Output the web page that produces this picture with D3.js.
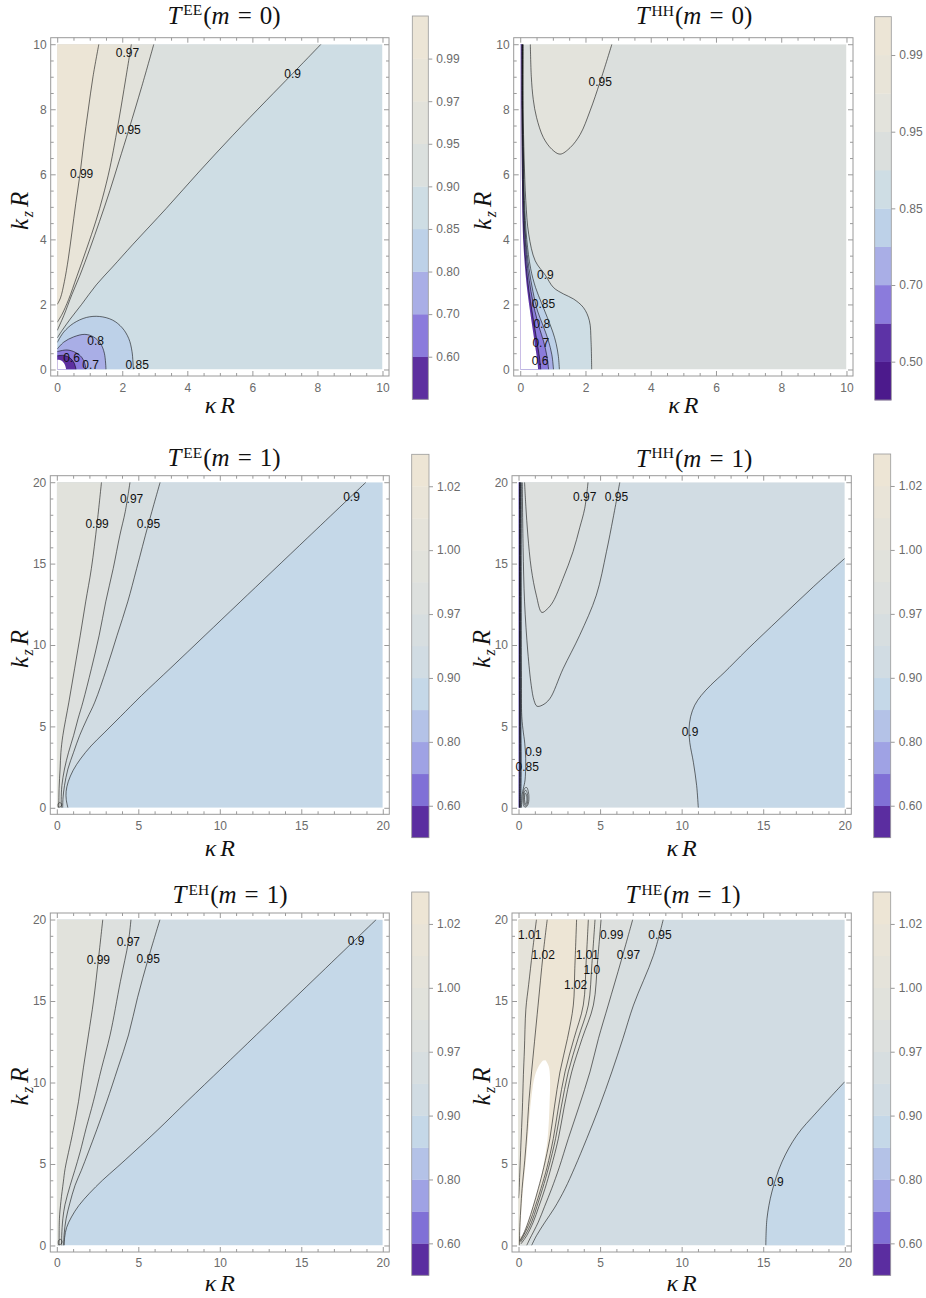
<!DOCTYPE html>
<html><head><meta charset="utf-8">
<script src="https://cdn.jsdelivr.net/npm/d3@7"></script>
<style>body{margin:0;background:#fff}</style>
</head><body>
<svg id="c" width="926" height="1298" xmlns="http://www.w3.org/2000/svg"></svg>
<script>
// ================= DATA =================
const TICKS10 = [0, 2, 4, 6, 8, 10];
const TICKS20 = [0, 5, 10, 15, 20];

// colour bands (contour levels and band colours, bottom -> top)
const LV_EE0 = [0.60, 0.70, 0.80, 0.85, 0.90, 0.95, 0.97, 0.99];
const COL_EE0 = ["#5d2f9f","#8b7bdc","#a9aee6","#bdd1e8","#cedde4","#dbe0de","#e2e2db","#e8e4d8","#ece5d6"];
const CBT_EE0 = [0.60, 0.70, 0.80, 0.85, 0.90, 0.95, 0.97, 0.99];

const LV_HH0 = [0.50, 0.60, 0.70, 0.80, 0.85, 0.90, 0.95, 0.97, 0.99];
const COL_HH0 = ["#4c1a8c","#5d33a6","#8b7bdc","#a9aee6","#bdd1e8","#cedde4","#dbdfdd","#e3e3dc","#e8e4d8","#ece5d6"];
const CBT_HH0 = [0.50, 0.70, 0.85, 0.95, 0.99];

const LV_M1 = [0.60, 0.70, 0.80, 0.85, 0.90, 0.95, 0.97, 0.99, 1.00, 1.01, 1.02];
const COL_M1 = ["#5b2da0","#8070d6","#9fa2e4","#b4c2e7","#c5d8e8","#d1dce3","#d7dee0","#dde0de","#e1e2dc","#e5e3da","#e9e4d8","#ede5d5"];
const CBT_M1 = [0.60, 0.80, 0.90, 0.97, 1.00, 1.02];

// ---- T^EE (m=0) contour lines [kappaR, kzR] ----
const ee0_099 = [[1.28,10],[1.1,9],[0.95,7.95],[0.82,7],[0.7,6.0],[0.57,5.1],[0.45,4.2],[0.34,3.4],[0.22,2.7],[0.1,2.2],[0,2.0]];
const ee0_097 = [[2.28,10],[2.1,8.9],[1.9,7.7],[1.62,6.2],[1.4,5.3],[1.2,4.6],[0.9,3.7],[0.6,2.85],[0.35,2.15],[0.15,1.7],[0,1.45]];
const ee0_095 = [[2.97,10],[2.6,8.7],[2.21,7.4],[1.9,6.4],[1.62,5.5],[1.3,4.55],[1.0,3.7],[0.7,2.9],[0.45,2.3],[0.2,1.65],[0,1.2]];
const ee0_090 = [[8.11,10],[7.24,9.1],[6.42,8.26],[5.4,7.2],[4.38,6.1],[3.35,4.95],[2.33,3.85],[1.7,3.15],[1.2,2.6],[0.75,2.0],[0.4,1.55],[0.15,1.2],[0,0.97]];
const ee0_085 = [[0,0.83],[0.2,1.15],[0.5,1.42],[0.9,1.6],[1.3,1.63],[1.7,1.52],[2.0,1.28],[2.2,0.95],[2.3,0.55],[2.34,0]];
const ee0_080 = [[0,0.63],[0.2,0.84],[0.5,1.0],[0.85,1.08],[1.12,1.0],[1.33,0.8],[1.45,0.5],[1.5,0]];
const ee0_070 = [[0,0.55],[0.3,0.6],[0.55,0.53],[0.75,0.38],[0.85,0.18],[0.88,0]];
const ee0_060 = [[0,0.42],[0.22,0.43],[0.4,0.35],[0.52,0.2],[0.58,0]];
const ee0_nan = [[0,0.3],[0.12,0.28],[0.22,0.18],[0.28,0]];
const LAB_EE0 = [["0.97",2.16,9.74],["0.9",7.24,9.1],["0.95",2.21,7.37],["0.99",0.75,6.03],["0.8",1.18,0.88],["0.6",0.44,0.35],["0.7",1.03,0.16],["0.85",2.46,0.16]];

// ---- T^HH (m=0) ----
const hh0_095 = [[0.31,10],[0.34,9.0],[0.4,8.3],[0.5,7.75],[0.71,7.13],[0.97,6.77],[1.22,6.62],[1.53,6.82],[1.84,7.23],[2.14,7.95],[2.45,8.85],[2.81,10]];
const hh0_090 = [[0.09,10],[0.09,8],[0.12,6.5],[0.17,5.2],[0.26,4.16],[0.46,3.34],[0.77,2.9],[1.02,2.52],[1.33,2.32],[1.63,2.17],[1.94,1.9],[2.12,1.5],[2.17,0.88],[2.19,0]];
const hh0_085 = [[0.08,10],[0.08,8],[0.1,6.5],[0.13,5.2],[0.2,4.0],[0.32,3.1],[0.47,2.52],[0.65,2.05],[0.83,1.6],[1.0,1.15],[1.1,0.8],[1.17,0.4],[1.2,0]];
const hh0_080 = [[0.07,10],[0.07,8],[0.09,6.5],[0.11,5.2],[0.17,4.0],[0.27,3.1],[0.39,2.4],[0.53,1.8],[0.7,1.35],[0.86,0.9],[0.97,0.45],[1.02,0]];
const hh0_070 = [[0.06,10],[0.06,8],[0.08,6.5],[0.1,5.2],[0.15,4.0],[0.23,3.1],[0.33,2.4],[0.45,1.8],[0.58,1.3],[0.72,0.85],[0.82,0.4],[0.87,0]];
const hh0_060 = [[0.05,10],[0.05,8],[0.06,6.5],[0.08,5.2],[0.12,4.0],[0.19,3.1],[0.27,2.4],[0.36,1.8],[0.45,1.25],[0.54,0.7],[0.6,0.3],[0.63,0]];
const hh0_nan = [[0.03,10],[0.04,8],[0.05,6.5],[0.06,5.2],[0.09,4.0],[0.15,3.1],[0.22,2.4],[0.3,1.8],[0.38,1.25],[0.46,0.7],[0.52,0.3],[0.55,0]];
const LAB_HH0 = [["0.95",2.45,8.85],["0.9",0.77,2.9],["0.85",0.71,2.03],["0.8",0.66,1.42],["0.7",0.63,0.83],["0.6",0.61,0.27]];

// ---- T^EE (m=1) ----
const ee1_099 = [[2.74,20],[2.47,17.47],[2.12,14.7],[1.77,12.65],[1.44,10.6],[1.09,8.54],[0.74,6.49],[0.37,4.44],[0.25,3.4],[0.2,2.38],[0.14,1.2],[0.12,0]];
const ee1_097 = [[4.49,20],[4.2,18.2],[3.87,16.75],[3.46,14.7],[3.0,12.65],[2.6,10.6],[2.12,8.54],[1.6,6.49],[1.3,5.46],[1.03,4.44],[0.72,3.41],[0.47,2.38],[0.31,1.36],[0.27,0.5],[0.28,0]];
const ee1_095 = [[6.34,20],[5.62,17.43],[4.9,14.7],[4.35,12.65],[3.7,10.6],[3.05,8.54],[2.33,6.49],[1.85,5.46],[1.4,4.44],[1.03,3.41],[0.68,2.38],[0.47,1.36],[0.38,0.6],[0.36,0]];
const ee1_090 = [[18.97,20],[15.4,16.6],[11.25,12.65],[9.1,10.6],[7.0,8.6],[5.2,6.9],[3.9,5.6],[2.9,4.6],[2.1,3.8],[1.45,3.0],[1.0,2.3],[0.7,1.6],[0.57,1.0],[0.58,0.5],[0.68,0]];
const ee1_loop = [[0.1,0.04],[0.25,0.08],[0.3,0.2],[0.2,0.32],[0.08,0.24]];
const LAB_EE1 = [["0.97",4.59,18.97],["0.99",2.47,17.47],["0.95",5.62,17.43],["0.9",18.08,19.12]];

// ---- T^HH (m=1) ----
const hh1_097 = [[0.37,20],[0.45,18.5],[0.57,16.76],[0.78,14.7],[1.09,13.06],[1.43,12.0],[1.75,12.2],[2.11,12.65],[2.73,14.09],[3.34,15.73],[3.75,17.2],[4.06,18.4],[4.26,20]];
const hh1_095 = [[0.23,20],[0.28,16],[0.37,12.65],[0.57,9.57],[0.78,7.52],[0.95,6.6],[1.13,6.24],[1.45,6.3],[1.91,6.69],[2.73,8.54],[3.75,10.6],[4.77,13.06],[5.39,15.73],[5.8,17.8],[6.21,20]];
const hh1_090r = [[11.02,0],[10.92,1.36],[10.72,2.79],[10.5,4.0],[10.45,4.8],[10.55,5.6],[10.8,6.3],[11.2,6.9],[11.8,7.55],[12.6,8.3],[14.0,9.7],[16.04,11.65],[18.1,13.6],[20,15.32]];
const hh1_090l = [[0.17,20],[0.17,12],[0.18,8],[0.2,5.6],[0.3,4.6],[0.36,4.17],[0.43,3.3],[0.44,2.73],[0.4,1.7],[0.3,1.2],[0.22,0.8],[0.18,0]];
const hh1_085 = [[0.13,20],[0.13,12],[0.14,8],[0.15,5],[0.17,3],[0.16,1.5],[0.13,0]];
const hh1_080 = [[0.1,20],[0.1,12],[0.1,8],[0.11,5],[0.12,3],[0.11,1.5],[0.1,0]];
const hh1_070 = [[0.08,20],[0.08,12],[0.08,8],[0.09,5],[0.09,3],[0.08,1.5],[0.07,0]];
const hh1_060 = [[0.06,20],[0.06,12],[0.06,8],[0.06,5],[0.06,3],[0.05,1.5],[0.05,0]];
const hh1_nan = [[0.04,20],[0.04,8],[0.045,3],[0.04,0]];
const hh1_loopA = [[0.42,0.02],[0.58,0.2],[0.64,0.6],[0.6,1.0],[0.5,1.25],[0.38,1.2],[0.3,0.9],[0.27,0.45],[0.32,0.12]];
const hh1_loopB = [[0.43,0.1],[0.54,0.25],[0.57,0.6],[0.53,0.92],[0.45,1.08],[0.37,1.0],[0.33,0.7],[0.33,0.35]];
const hh1_loopC = [[0.44,0.2],[0.5,0.35],[0.51,0.6],[0.48,0.82],[0.42,0.9],[0.38,0.75],[0.37,0.5]];
const LAB_HH1 = [["0.97",4.06,19.12],["0.95",6.0,19.12],["0.9",10.51,4.68],["0.9",0.92,3.45],["0.85",0.53,2.53]];

// ---- T^EH (m=1) ----
const eh1_099 = [[2.82,20],[2.55,17.54],[2.25,15],[1.94,12.92],[1.63,10.9],[1.33,8.82],[0.95,6.8],[0.51,4.72],[0.4,3.9],[0.25,2.7],[0.16,1.64],[0.14,0]];
const eh1_097 = [[4.55,20],[4.39,18.63],[3.9,16.2],[3.27,12.92],[2.75,10.9],[2.24,8.82],[1.8,7.2],[1.43,5.74],[1.1,4.6],[0.82,3.69],[0.5,2.5],[0.37,1.64],[0.3,0.6],[0.3,0]];
const eh1_095 = [[6.33,20],[5.61,17.6],[4.95,15.2],[4.4,12.92],[3.75,10.9],[3.06,8.82],[2.45,7.1],[1.94,5.74],[1.5,4.6],[1.12,3.69],[0.8,2.6],[0.57,1.64],[0.45,0.7],[0.42,0]];
const eh1_090 = [[19.6,20],[18.25,18.7],[15.34,15.9],[12.24,12.92],[10.14,10.9],[8.0,8.85],[6.2,7.1],[4.8,5.8],[3.7,4.8],[2.8,4.0],[2.0,3.2],[1.35,2.45],[0.9,1.75],[0.6,1.1],[0.48,0.5],[0.45,0]];
const eh1_loop = [[0.12,0.04],[0.27,0.1],[0.32,0.25],[0.22,0.38],[0.1,0.28]];
const LAB_EH1 = [["0.99",2.55,17.54],["0.97",4.39,18.63],["0.95",5.61,17.6],["0.9",18.37,18.7]];

// ---- T^HE (m=1) ----
const he1_090 = [[15.16,0],[15.23,1.64],[15.53,3.28],[16.15,5.13],[17.07,6.77],[18.3,8.2],[20,10.05]];
const he1_095 = [[8.87,20],[8.27,17.8],[7.05,14.75],[6.4,12.7],[5.72,10.65],[4.95,8.5],[4.18,6.55],[3.45,4.8],[2.85,3.48],[2.2,2.3],[1.62,1.43],[1.1,0.6],[0.8,0]];
const he1_097 = [[7.0,20],[6.3,17.5],[5.5,14.75],[4.9,12.7],[4.38,10.65],[3.7,8.5],[3.05,6.55],[2.5,4.8],[2.03,3.48],[1.6,2.4],[1.21,1.43],[0.69,0.4],[0.5,0]];
const he1_099 = [[5.06,20],[4.85,17.5],[4.59,14.75],[3.9,12.7],[3.26,10.65],[2.8,8.5],[2.44,6.55],[2.0,4.8],[1.62,3.48],[1.25,2.4],[0.9,1.43],[0.5,0.6],[0.15,0.1]];
const he1_100 = [[4.69,20],[4.5,17.3],[4.28,14.75],[3.65,12.7],[3.05,10.65],[2.62,8.5],[2.27,6.55],[1.85,4.8],[1.47,3.48],[1.13,2.4],[0.8,1.43],[0.42,0.65],[0.12,0.2]];
const he1_101r = [[4.28,20],[4.15,17.5],[3.97,14.75],[3.4,12.7],[2.85,10.65],[2.45,8.5],[2.13,6.55],[1.75,4.8],[1.37,3.48],[1.03,2.4],[0.69,1.43],[0.35,0.7],[0.1,0.25]];
const he1_102r = [[3.56,20],[3.45,17],[3.36,14.75],[3.0,12.7],[2.54,10.65],[2.2,8.5],[1.92,6.55],[1.55,4.8],[1.21,3.48],[0.9,2.4],[0.59,1.43],[0.3,0.7],[0.08,0.3]];
const he1_102l = [[1.76,20],[1.5,17.8],[1.2,14.75],[0.98,12.5],[0.8,10.65],[0.65,9.0],[0.52,7.0],[0.38,5.2],[0.22,3.5],[0.14,2.3],[0.09,1.4],[0.06,0.4],[0.05,0]];
const he1_101l = [[1.1,20],[0.85,18],[0.62,16],[0.45,14.5],[0.36,12],[0.3,10.5],[0.23,8.2],[0.15,6.3],[0.08,4.5],[0.03,3.3],[0,2.9]];
const he1_nan = [[1.66,11.37],[1.85,11.0],[1.93,10.3],[1.9,8.6],[1.78,6.55],[1.45,4.5],[1.05,3.0],[0.75,2.0],[0.45,1.1],[0.22,0.6],[0.12,0.55],[0.13,1.4],[0.19,2.3],[0.28,3.5],[0.45,5.2],[0.6,7.0],[0.78,9.0],[1.0,10.4],[1.3,11.1],[1.5,11.35]];
const LAB_HE1 = [["1.01",0.69,19.1],["1.02",1.51,17.87],["1.01",4.22,17.87],["1.0",4.49,16.9],["1.02",3.5,16.02],["0.99",5.71,19.1],["0.97",6.74,17.87],["0.95",8.67,19.08],["0.9",15.74,3.9]];

// ================= PANEL DEFINITIONS =================
const panels = [
  {sup:"EE", m:"0", max:10, ticks:TICKS10, minor:0.5, levels:LV_EE0, colors:COL_EE0, cbTicks:CBT_EE0, base:0.875,
   contours:[{v:0.90,s:1,c:["TL"],p:ee0_090},{v:0.95,s:1,c:["TL"],p:ee0_095},{v:0.97,s:1,c:["TL"],p:ee0_097},{v:0.99,s:1,c:["TL"],p:ee0_099},
             {v:0.85,s:-1,c:["BL"],p:ee0_085},{v:0.80,s:-1,c:["BL"],p:ee0_080},{v:0.70,s:-1,c:["BL"],p:ee0_070},{v:0.60,s:-1,c:["BL"],p:ee0_060}],
   nan:[{p:ee0_nan,c:["BL"]}], loops:[], labels:LAB_EE0},
  {sup:"HH", m:"0", max:10, ticks:TICKS10, minor:0.5, levels:LV_HH0, colors:COL_HH0, cbTicks:CBT_HH0, base:0.925,
   contours:[{v:0.95,s:1,c:[],p:hh0_095},{v:0.90,s:-1,c:["BL","TL"],p:hh0_090},{v:0.85,s:-1,c:["BL","TL"],p:hh0_085},
             {v:0.80,s:-1,c:["BL","TL"],p:hh0_080},{v:0.70,s:-1,c:["BL","TL"],p:hh0_070},{v:0.60,s:-1,c:["BL","TL"],p:hh0_060}],
   nan:[{p:hh0_nan,c:["BL","TL"]}], loops:[], labels:LAB_HH0},
  {sup:"EE", m:"1", max:20, ticks:TICKS20, minor:1, levels:LV_M1, colors:COL_M1, cbTicks:CBT_M1, base:0.875,
   contours:[{v:0.90,s:1,c:["BL","TL"],p:ee1_090},{v:0.95,s:1,c:["BL","TL"],p:ee1_095},{v:0.97,s:1,c:["BL","TL"],p:ee1_097},{v:0.99,s:1,c:["BL","TL"],p:ee1_099}],
   nan:[], loops:[ee1_loop], labels:LAB_EE1},
  {sup:"HH", m:"1", max:20, ticks:TICKS20, minor:1, levels:LV_M1, colors:COL_M1, cbTicks:CBT_M1, base:0.925,
   contours:[{v:0.90,s:-1,c:["BR"],p:hh1_090r},{v:0.95,s:1,c:[],p:hh1_095},{v:0.97,s:1,c:[],p:hh1_097},
             {v:0.90,s:-1,c:["BL","TL"],p:hh1_090l},{v:0.85,s:-1,c:["BL","TL"],p:hh1_085},{v:0.80,s:-1,c:["BL","TL"],p:hh1_080},
             {v:0.70,s:-1,c:["BL","TL"],p:hh1_070},{v:0.60,s:-1,c:["BL","TL"],p:hh1_060}],
   nan:[{p:hh1_nan,c:["BL","TL"]}], loops:[hh1_loopA,hh1_loopB,hh1_loopC], labels:LAB_HH1},
  {sup:"EH", m:"1", max:20, ticks:TICKS20, minor:1, levels:LV_M1, colors:COL_M1, cbTicks:CBT_M1, base:0.875,
   contours:[{v:0.90,s:1,c:["BL","TL"],p:eh1_090},{v:0.95,s:1,c:["BL","TL"],p:eh1_095},{v:0.97,s:1,c:["BL","TL"],p:eh1_097},{v:0.99,s:1,c:["BL","TL"],p:eh1_099}],
   nan:[], loops:[eh1_loop], labels:LAB_EH1},
  {sup:"HE", m:"1", max:20, ticks:TICKS20, minor:1, levels:LV_M1, colors:COL_M1, cbTicks:CBT_M1, base:0.925,
   contours:[{v:0.90,s:-1,c:["BR"],p:he1_090},{v:0.95,s:1,c:["BL","TL"],p:he1_095},{v:0.97,s:1,c:["BL","TL"],p:he1_097},
             {v:0.99,s:1,c:["BL","TL"],p:he1_099},{v:1.00,s:1,c:["BL","TL"],p:he1_100},{v:1.01,s:1,c:["BL","TL"],p:he1_101r},
             {v:1.02,s:1,c:["BL","TL"],p:he1_102r},{v:1.02,s:-1,c:["BL","TL"],p:he1_102l},{v:1.01,s:-1,c:["TL"],p:he1_101l}],
   nan:[{p:he1_nan,c:[]}], loops:[], labels:LAB_HE1}
];

// ================= LAYOUT =================
const layout = [
  {fx0:50.7, fx1:389.0, fy0:37.7, fy1:376.0, cb:[412.3,16.0,428.3,399.3], tx:224, ty:23.5, xly:412.7, ylx:28, tp:7},
  {fx0:513.7,fx1:853.0, fy0:37.7, fy1:376.0, cb:[874.7,16.7,891.3,400.0], tx:694, ty:24.0, xly:412.7, ylx:491, tp:7},
  {fx0:50.3, fx1:389.3, fy0:475.7,fy1:814.3, cb:[411.7,454.3,429.0,837.7], tx:224, ty:466.0, xly:855.7, ylx:28, tp:7},
  {fx0:512.0,fx1:851.3, fy0:475.7,fy1:814.3, cb:[873.7,454.0,890.7,837.7], tx:694, ty:466.5, xly:855.7, ylx:490, tp:7},
  {fx0:50.3, fx1:389.3, fy0:913.0,fy1:1252.0,cb:[411.7,892.0,429.0,1275.3],tx:230, ty:903.0, xly:1291.0, ylx:28, tp:6},
  {fx0:512.0,fx1:851.3, fy0:913.0,fy1:1252.0,cb:[873.0,892.0,890.7,1275.3],tx:683, ty:903.0, xly:1291.0, ylx:490, tp:6}
];

const SANS = "Liberation Sans, Arial, Helvetica, sans-serif";
const SERIF = "Liberation Serif, Times New Roman, serif";
const GRAY = "#9a9a9a";
const svg = d3.select("#c");
svg.append("rect").attr("width",926).attr("height",1298).attr("fill","#fff");
const defs = svg.append("defs");

panels.forEach((P, i) => {
  const L = layout[i];
  const padX = (L.fx1 - L.fx0) * 0.02 / 1.04, padY = (L.fy1 - L.fy0) * 0.02 / 1.04;
  const x = d3.scaleLinear().domain([0, P.max]).range([L.fx0 + padX, L.fx1 - padX]);
  const y = d3.scaleLinear().domain([0, P.max]).range([L.fy1 - padY, L.fy0 + padY]);
  const g = svg.append("g");
  const cid = "clip" + i;
  defs.append("clipPath").attr("id", cid).append("rect")
    .attr("x", x(0)).attr("y", y(P.max)).attr("width", x(P.max) - x(0)).attr("height", y(0) - y(P.max));
  const plot = g.append("g").attr("clip-path", `url(#${cid})`);
  const bandColor = v => P.colors[d3.bisectRight(P.levels, v)];
  const corner = {TL:[0,P.max], BL:[0,0], BR:[P.max,0], TR:[P.max,P.max]};
  const line = d3.line().x(d => x(d[0])).y(d => y(d[1])).curve(d3.curveCatmullRom.alpha(0.5));
  const loopLine = d3.line().x(d => x(d[0])).y(d => y(d[1])).curve(d3.curveCatmullRomClosed.alpha(0.5));
  const region = (pts, corners) => line(pts) + corners.map(k => `L${x(corner[k][0])},${y(corner[k][1])}`).join("") + "Z";

  plot.append("rect").attr("x", x(0)).attr("y", y(P.max)).attr("width", x(P.max) - x(0)).attr("height", y(0) - y(P.max))
    .attr("fill", bandColor(P.base));
  P.contours.forEach(c => {
    plot.append("path").attr("d", region(c.p, c.c)).attr("fill", bandColor(c.v + c.s * 1e-6)).attr("stroke", "none");
  });
  P.nan.forEach(n => plot.append("path").attr("d", region(n.p, n.c)).attr("fill", "#fff"));
  P.contours.forEach(c => {
    plot.append("path").attr("d", line(c.p)).attr("fill", "none")
      .attr("stroke", "#000").attr("stroke-opacity", 0.55).attr("stroke-width", 1);
  });
  P.loops.forEach(lp => {
    plot.append("path").attr("d", loopLine(lp)).attr("fill", "none")
      .attr("stroke", "#000").attr("stroke-opacity", 0.55).attr("stroke-width", 0.9);
  });
  P.labels.forEach(lb => {
    g.append("text").attr("x", x(lb[1])).attr("y", y(lb[2])).attr("dy", "0.36em")
      .attr("text-anchor", "middle").attr("font-family", SANS).attr("font-size", 12).attr("fill", "#111").text(lb[0]);
  });

  g.append("rect").attr("x", L.fx0).attr("y", L.fy0).attr("width", L.fx1 - L.fx0).attr("height", L.fy1 - L.fy0)
    .attr("fill", "none").attr("stroke", GRAY).attr("stroke-width", 1);
  const minor = d3.range(0, P.max + 1e-9, P.minor).filter(v => !P.ticks.includes(v));
  const styleAxis = sel => {
    sel.select(".domain").remove();
    sel.selectAll("line").attr("stroke", GRAY);
    sel.selectAll("text").attr("font-family", SANS).attr("font-size", 12).attr("fill", "#6b6b6b");
  };
  const fmt = d3.format("d");
  g.append("g").attr("transform", `translate(0,${L.fy1})`)
    .call(d3.axisBottom(x).tickValues(P.ticks).tickSizeInner(-5).tickSizeOuter(0).tickPadding(L.tp).tickFormat(fmt)).call(styleAxis);
  g.append("g").attr("transform", `translate(0,${L.fy1})`)
    .call(d3.axisBottom(x).tickValues(minor).tickSizeInner(-3).tickSizeOuter(0).tickFormat("")).call(styleAxis);
  g.append("g").attr("transform", `translate(0,${L.fy0})`)
    .call(d3.axisTop(x).tickValues(P.ticks).tickSizeInner(-5).tickSizeOuter(0).tickFormat("")).call(styleAxis);
  g.append("g").attr("transform", `translate(0,${L.fy0})`)
    .call(d3.axisTop(x).tickValues(minor).tickSizeInner(-3).tickSizeOuter(0).tickFormat("")).call(styleAxis);
  g.append("g").attr("transform", `translate(${L.fx0},0)`)
    .call(d3.axisLeft(y).tickValues(P.ticks).tickSizeInner(-5).tickSizeOuter(0).tickPadding(4).tickFormat(fmt)).call(styleAxis);
  g.append("g").attr("transform", `translate(${L.fx0},0)`)
    .call(d3.axisLeft(y).tickValues(minor).tickSizeInner(-3).tickSizeOuter(0).tickFormat("")).call(styleAxis);
  g.append("g").attr("transform", `translate(${L.fx1},0)`)
    .call(d3.axisRight(y).tickValues(P.ticks).tickSizeInner(-5).tickSizeOuter(0).tickFormat("")).call(styleAxis);
  g.append("g").attr("transform", `translate(${L.fx1},0)`)
    .call(d3.axisRight(y).tickValues(minor).tickSizeInner(-3).tickSizeOuter(0).tickFormat("")).call(styleAxis);

  const t = g.append("text").attr("x", L.tx).attr("y", L.ty).attr("text-anchor", "middle")
    .attr("font-family", SERIF).attr("font-size", 25).attr("fill", "#111");
  t.append("tspan").attr("font-style", "italic").text("T");
  t.append("tspan").attr("font-size", 15.5).attr("dx", 2).attr("dy", -8.5).text(P.sup);
  t.append("tspan").attr("dx", 1).attr("dy", 8.5).text("(");
  t.append("tspan").attr("font-style", "italic").text("m");
  t.append("tspan").attr("dx", 8).text("=");
  t.append("tspan").attr("dx", 8).text(P.m + ")");

  const xl = g.append("text").attr("x", (L.fx0 + L.fx1) / 2).attr("y", L.xly).attr("text-anchor", "middle")
    .attr("font-family", SERIF).attr("font-size", 24).attr("font-style", "italic").attr("fill", "#111");
  xl.append("tspan").text("κ");
  xl.append("tspan").attr("dx", 4).text("R");
  const yl = g.append("text").attr("transform", `translate(${L.ylx},${(L.fy0 + L.fy1) / 2 + 4}) rotate(-90)`)
    .attr("text-anchor", "middle").attr("font-family", SERIF).attr("font-size", 25).attr("font-style", "italic").attr("fill", "#111");
  yl.append("tspan").text("k");
  yl.append("tspan").attr("font-size", 16).attr("dx", 1.5).attr("dy", 5).text("z");
  yl.append("tspan").attr("dx", 4).attr("dy", -5).text("R");

  const [cx0, cy0, cx1, cy1] = L.cb;
  const nb = P.colors.length;
  const cbY = d3.scaleLinear().domain([0, nb]).range([cy1, cy0]);
  const cb = g.append("g");
  cb.selectAll("rect.band").data(P.colors).join("rect").attr("class", "band")
    .attr("x", cx0).attr("width", cx1 - cx0)
    .attr("y", (d, k) => cbY(k + 1)).attr("height", (d, k) => cbY(k) - cbY(k + 1) + 0.3)
    .attr("fill", d => d);
  cb.append("rect").attr("x", cx0).attr("y", cy0).attr("width", cx1 - cx0).attr("height", cy1 - cy0)
    .attr("fill", "none").attr("stroke", GRAY).attr("stroke-width", 0.8);
  const tickIdx = P.cbTicks.map(v => P.levels.findIndex(l => Math.abs(l - v) < 1e-9) + 1);
  const cbFmt = d3.format(".2f");
  cb.append("g").attr("transform", `translate(${cx1},0)`)
    .call(d3.axisRight(cbY).tickValues(tickIdx).tickSizeInner(4).tickSizeOuter(0).tickPadding(4)
      .tickFormat(k => cbFmt(P.levels[k - 1])))
    .call(styleAxis);
});
</script>
</body></html>
